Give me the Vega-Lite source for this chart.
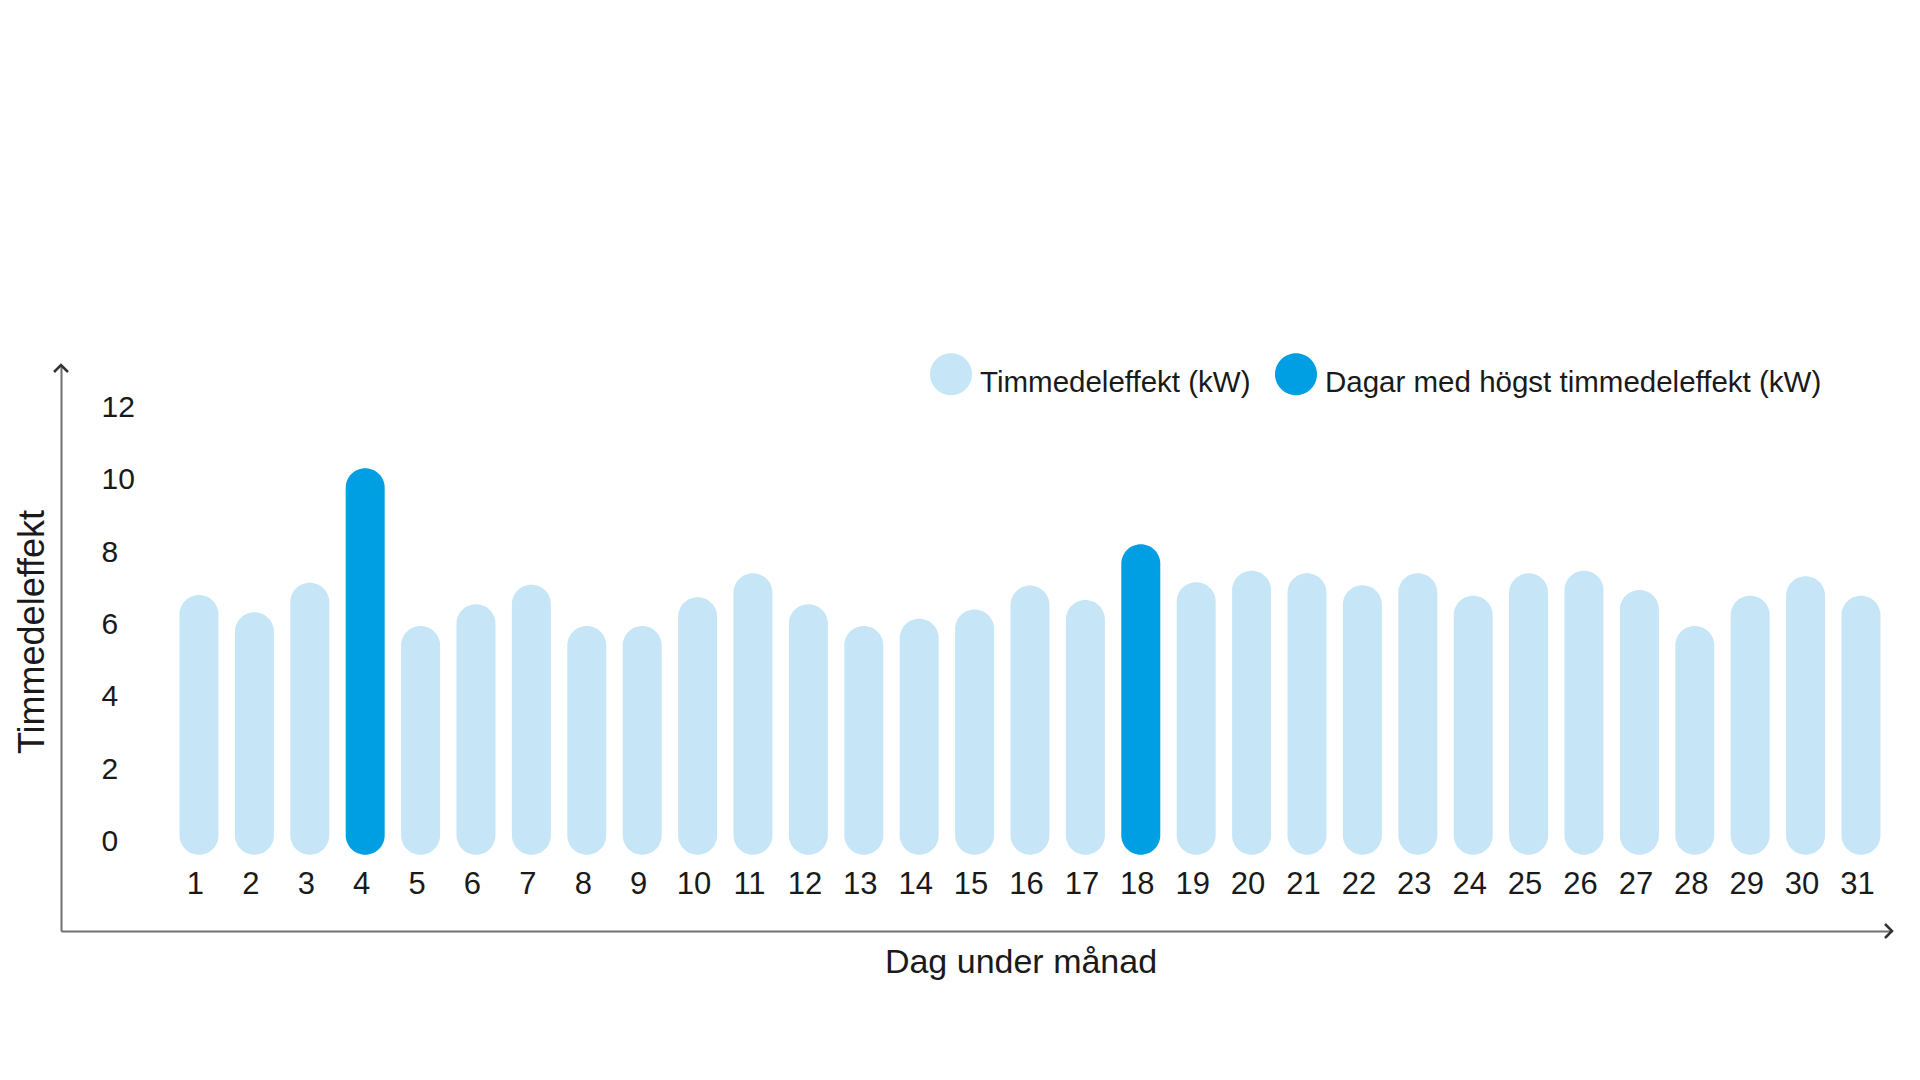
{
  "$schema": "https://vega.github.io/schema/vega-lite/v6.json",
  "autosize": {"type": "none"},
  "padding": {"left": 61, "top": 365, "right": 28, "bottom": 149},
  "width": 1831,
  "height": 566,
  "background": "white",
  "config": {
    "view": {"stroke": null},
    "font": "Liberation Sans",
    "axis": {"labelFont": "Liberation Sans", "titleFont": "Liberation Sans", "labelColor": "#1a1a1a", "titleColor": "#1a1a1a", "titleFontWeight": "normal"},
    "legend": {"labelFont": "Liberation Sans", "labelColor": "#1a1a1a"}
  },
  "layer": [
    {
      "data": {
        "values": [
          {"dag": 1, "effekt": 6.46, "serie": "Timmedeleffekt (kW)"},
          {"dag": 2, "effekt": 5.98, "serie": "Timmedeleffekt (kW)"},
          {"dag": 3, "effekt": 6.8, "serie": "Timmedeleffekt (kW)"},
          {"dag": 4, "effekt": 9.96, "serie": "Dagar med högst timmedeleffekt (kW)"},
          {"dag": 5, "effekt": 5.6, "serie": "Timmedeleffekt (kW)"},
          {"dag": 6, "effekt": 6.2, "serie": "Timmedeleffekt (kW)"},
          {"dag": 7, "effekt": 6.74, "serie": "Timmedeleffekt (kW)"},
          {"dag": 8, "effekt": 5.6, "serie": "Timmedeleffekt (kW)"},
          {"dag": 9, "effekt": 5.6, "serie": "Timmedeleffekt (kW)"},
          {"dag": 10, "effekt": 6.4, "serie": "Timmedeleffekt (kW)"},
          {"dag": 11, "effekt": 7.06, "serie": "Timmedeleffekt (kW)"},
          {"dag": 12, "effekt": 6.2, "serie": "Timmedeleffekt (kW)"},
          {"dag": 13, "effekt": 5.6, "serie": "Timmedeleffekt (kW)"},
          {"dag": 14, "effekt": 5.8, "serie": "Timmedeleffekt (kW)"},
          {"dag": 15, "effekt": 6.06, "serie": "Timmedeleffekt (kW)"},
          {"dag": 16, "effekt": 6.72, "serie": "Timmedeleffekt (kW)"},
          {"dag": 17, "effekt": 6.32, "serie": "Timmedeleffekt (kW)"},
          {"dag": 18, "effekt": 7.86, "serie": "Dagar med högst timmedeleffekt (kW)"},
          {"dag": 19, "effekt": 6.81, "serie": "Timmedeleffekt (kW)"},
          {"dag": 20, "effekt": 7.13, "serie": "Timmedeleffekt (kW)"},
          {"dag": 21, "effekt": 7.06, "serie": "Timmedeleffekt (kW)"},
          {"dag": 22, "effekt": 6.73, "serie": "Timmedeleffekt (kW)"},
          {"dag": 23, "effekt": 7.06, "serie": "Timmedeleffekt (kW)"},
          {"dag": 24, "effekt": 6.44, "serie": "Timmedeleffekt (kW)"},
          {"dag": 25, "effekt": 7.06, "serie": "Timmedeleffekt (kW)"},
          {"dag": 26, "effekt": 7.13, "serie": "Timmedeleffekt (kW)"},
          {"dag": 27, "effekt": 6.6, "serie": "Timmedeleffekt (kW)"},
          {"dag": 28, "effekt": 5.6, "serie": "Timmedeleffekt (kW)"},
          {"dag": 29, "effekt": 6.44, "serie": "Timmedeleffekt (kW)"},
          {"dag": 30, "effekt": 6.98, "serie": "Timmedeleffekt (kW)"},
          {"dag": 31, "effekt": 6.44, "serie": "Timmedeleffekt (kW)"}
        ]
      },
      "mark": {"type": "bar", "size": 39, "cornerRadius": 19.5, "yOffset": -13, "y2Offset": 13},
      "encoding": {
        "x": {
          "field": "dag", "type": "quantitative",
          "scale": {"domain": [-1.491, 31.56], "nice": false, "zero": false, "padding": 0},
          "axis": {
            "values": [1,2,3,4,5,6,7,8,9,10,11,12,13,14,15,16,17,18,19,20,21,22,23,24,25,26,27,28,29,30,31],
            "format": "d", "grid": false, "ticks": false, "tickSize": 0,
            "domain": true, "domainColor": "#707070", "domainWidth": 2,
            "labelFontSize": 31, "labelBaseline": "alphabetic", "labelAlign": "center",
            "labelPadding": -38, "labelOffset": -4, "labelFlush": false, "labelOverlap": false, "labelBound": false,
            "title": "Dag under månad", "titleFontSize": 34, "titleX": 959.5, "titleY": 41,
            "titleAlign": "center", "titleBaseline": "alphabetic"
          }
        },
        "y": {
          "field": "effekt", "type": "quantitative",
          "scale": {"domain": [-2.468, 13.175], "nice": false, "zero": false, "padding": 0},
          "axis": {
            "values": [0, 2, 4, 6, 8, 10, 12],
            "grid": false, "ticks": false, "tickSize": 0,
            "domain": true, "domainColor": "#707070", "domainWidth": 2,
            "labelFontSize": 30, "labelAlign": "left", "labelBaseline": "middle", "labelPadding": -40,
            "labelFlush": false, "labelOverlap": false, "labelBound": false,
            "title": "Timmedeleffekt", "titleFontSize": 36, "titleAngle": -90,
            "titleX": -18, "titleY": 266.5, "titleAlign": "center", "titleBaseline": "alphabetic"
          }
        },
        "y2": {"datum": 0},
        "color": {
          "field": "serie", "type": "nominal",
          "scale": {"domain": ["Timmedeleffekt (kW)", "Dagar med högst timmedeleffekt (kW)"], "range": ["#C6E6F8", "#009FE3"]},
          "legend": {
            "title": null, "orient": "none", "legendX": 869, "legendY": -3, "direction": "horizontal",
            "symbolType": "M-1,-0.43A1,1,0,1,0,1,-0.43A1,1,0,1,0,-1,-0.43Z", "symbolSize": 1764, "symbolStrokeWidth": 0, "symbolOpacity": 1,
            "labelFontSize": 29.5, "labelOffset": 8, "columnPadding": 24, "padding": 0,
            "labelBaseline": "middle", "labelLimit": 0
          }
        }
      }
    },
    {
      "data": {"values": [{"pil": "y"}]},
      "mark": {"type": "point", "shape": "M-1,1L0,0L1,1", "size": 196, "filled": false, "stroke": "#333333", "strokeWidth": 2.5, "opacity": 1},
      "encoding": {
        "x": {"datum": -1.491, "type": "quantitative", "title": "Dag under månad", "scale": {"domain": [-1.491, 31.56], "nice": false, "zero": false, "padding": 0}},
        "y": {"datum": 13.175, "type": "quantitative", "title": "Timmedeleffekt", "scale": {"domain": [-2.468, 13.175], "nice": false, "zero": false, "padding": 0}}
      }
    },
    {
      "data": {"values": [{"pil": "x"}]},
      "mark": {"type": "point", "shape": "M-1,-1L0,0L-1,1", "size": 196, "filled": false, "stroke": "#333333", "strokeWidth": 2.5, "opacity": 1},
      "encoding": {
        "x": {"datum": 31.56, "type": "quantitative", "title": "Dag under månad", "scale": {"domain": [-1.491, 31.56], "nice": false, "zero": false, "padding": 0}},
        "y": {"datum": -2.468, "type": "quantitative", "title": "Timmedeleffekt", "scale": {"domain": [-2.468, 13.175], "nice": false, "zero": false, "padding": 0}}
      }
    }
  ]
}
